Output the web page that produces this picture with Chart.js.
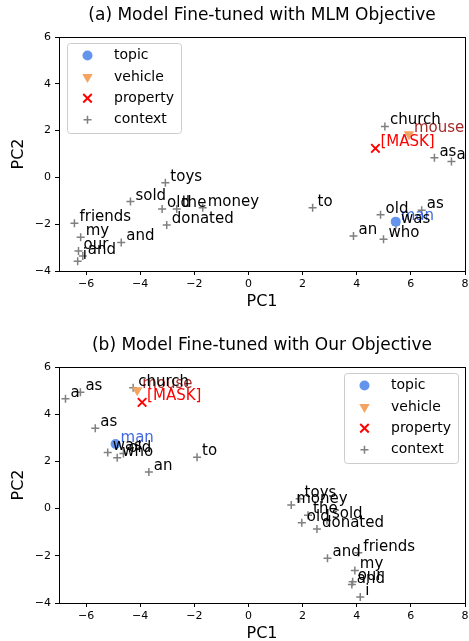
<!DOCTYPE html>
<html><head><meta charset="utf-8">
<script src="https://cdn.jsdelivr.net/npm/chart.js@4"></script>
<style>
html,body{margin:0;padding:0;overflow:hidden;background:#fff;width:469px;height:641px;}
canvas{position:absolute;left:0;}
#ca{top:0}
#cb{top:330px}
</style></head><body>
<canvas id="ca" width="469" height="330"></canvas>
<canvas id="cb" width="469" height="330"></canvas>
<script>
const xTicks = [-6, -4, -2, 0, 2, 4, 6, 8];
const yTicks = [-4, -2, 0, 2, 4, 6];
const seriesNames = ['topic', 'vehicle', 'property', 'context'];

// ---- Panel (a) ----
const aTitle = '(a) Model Fine-tuned with MLM Objective';
const aTopicWords = ['man'];    const aTopicX = [5.44];  const aTopicY = [-1.89];
const aVehicleWords = ['mouse']; const aVehicleX = [5.93]; const aVehicleY = [1.84];
const aPropWords = ['[MASK]'];  const aPropX = [4.69];   const aPropY = [1.24];
const aContextWords = ['church','as','a','toys','sold','old','the','money','donated','friends','my','and','our','and','i','to','old','as','was','an','who'];
const aContextX = [5.04, 6.87, 7.5, -3.07, -4.36, -3.19, -2.65, -1.69, -3.02, -6.43, -6.2, -4.7, -6.28, -6.12, -6.31, 2.37, 4.88, 6.4, 5.45, 3.88, 4.99];
const aContextY = [2.18, 0.84, 0.68, -0.23, -1.03, -1.35, -1.35, -1.3, -2.03, -1.96, -2.56, -2.78, -3.14, -3.36, -3.58, -1.3, -1.6, -1.4, -2.02, -2.5, -2.64];

// ---- Panel (b) ----
const bTitle = '(b) Model Fine-tuned with Our Objective';
const bTopicWords = ['man'];    const bTopicX = [-4.91]; const bTopicY = [2.74];
const bVehicleWords = ['mouse']; const bVehicleX = [-4.11]; const bVehicleY = [5.02];
const bPropWords = ['[MASK]'];  const bPropX = [-3.93];  const bPropY = [4.5];
const bContextWords = ['a','as','church','as','was','old','who','an','to','toys','money','the','sold','old','donated','and','friends','my','our','and','i'];
const bContextX = [-6.76, -6.21, -4.26, -5.66, -5.2, -4.62, -4.85, -3.68, -1.9, 1.89, 1.58, 2.2, 2.9, 1.97, 2.53, 2.92, 4.06, 3.93, 3.85, 3.82, 4.13];
const bContextY = [4.65, 4.93, 5.12, 3.4, 2.38, 2.33, 2.15, 1.55, 2.18, 0.42, 0.15, -0.28, -0.5, -0.6, -0.86, -2.1, -1.87, -2.62, -3.1, -3.22, -3.75];

const FONT = 'DejaVu Sans';
const fmt = v => (v < 0 ? '\u2212' + Math.abs(v) : String(v));
const pts = (xs, ys) => xs.map((x, i) => ({x: x, y: ys[i]}));

function datasets(tw, tx, ty, vw, vx, vy, pw, px, py, cw, cx, cy) {
  return [
    {label: seriesNames[0], data: pts(tx, ty), words: tw, labelColor: '#4169E1',
     pointStyle: 'circle', pointRadius: 5, pointRotation: 0, backgroundColor: '#6495ED', borderColor: '#6495ED', borderWidth: 0},
    {label: seriesNames[1], data: pts(vx, vy), words: vw, labelColor: '#A52A2A',
     pointStyle: 'triangle', pointRadius: 6, pointRotation: 180, backgroundColor: '#F4A460', borderColor: '#F4A460', borderWidth: 0},
    {label: seriesNames[2], data: pts(px, py), words: pw, labelColor: '#FF0000',
     pointStyle: 'crossRot', pointRadius: 6, pointRotation: 0, backgroundColor: '#FF0000', borderColor: '#FF0000', borderWidth: 2},
    {label: seriesNames[3], data: pts(cx, cy), words: cw, labelColor: '#000000',
     pointStyle: 'cross', pointRadius: 4, pointRotation: 0, backgroundColor: '#808080', borderColor: '#808080', borderWidth: 1.5}
  ];
}

const framePlugin = {
  id: 'frame',
  afterDraw(chart, args, opts) {
    const a = chart.chartArea, ctx = chart.ctx;
    ctx.save();
    ctx.strokeStyle = '#000'; ctx.lineWidth = 1;
    ctx.strokeRect(Math.round(a.left) + 0.5, Math.round(a.top) + 0.5, Math.round(a.right - a.left), Math.round(a.bottom - a.top));
    ctx.fillStyle = '#000';
    ctx.font = '17px "' + FONT + '"';
    ctx.textAlign = 'center'; ctx.textBaseline = 'middle';
    ctx.fillText(opts.title, (a.left + a.right) / 2, 16);
    ctx.restore();
  }
};

const wordPlugin = {
  id: 'words',
  afterDatasetsDraw(chart) {
    const ctx = chart.ctx;
    ctx.save();
    ctx.font = '15px "' + FONT + '"';
    ctx.textAlign = 'left'; ctx.textBaseline = 'alphabetic';
    chart.data.datasets.forEach((ds, i) => {
      const meta = chart.getDatasetMeta(i);
      ctx.fillStyle = ds.labelColor;
      meta.data.forEach((el, j) => ctx.fillText(ds.words[j], el.x + 5, el.y - 2));
    });
    ctx.restore();
  }
};

const legendPlugin = {
  id: 'boxLegend',
  afterDraw(chart, args, opts) {
    const ctx = chart.ctx, a = chart.chartArea;
    const w = 114, h = 90;
    const x = opts.side === 'left' ? a.left + 8 : a.right - 7 - w;
    const y = a.top + 6;
    ctx.save();
    ctx.beginPath();
    ctx.roundRect(x + 0.5, y + 0.5, w, h, 3);
    ctx.fillStyle = 'rgba(255,255,255,0.8)'; ctx.fill();
    ctx.strokeStyle = '#cccccc'; ctx.lineWidth = 1; ctx.stroke();
    chart.data.datasets.forEach((ds, i) => {
      const cy = y + 12.5 + i * 21.4;
      ctx.fillStyle = ds.backgroundColor; ctx.strokeStyle = ds.borderColor; ctx.lineWidth = ds.borderWidth;
      Chart.helpers.drawPoint(ctx, {pointStyle: ds.pointStyle, radius: ds.pointRadius, rotation: ds.pointRotation, borderWidth: ds.borderWidth}, x + 20.5, cy);
      ctx.fillStyle = '#000'; ctx.font = '14px "' + FONT + '"';
      ctx.textBaseline = 'middle'; ctx.textAlign = 'left';
      ctx.fillText(ds.label, x + 47, cy);
    });
    ctx.restore();
  }
};

function noPad(s) { s.paddingLeft = 0; s.paddingRight = 0; s.paddingTop = 0; s.paddingBottom = 0; }

function makeChart(id, title, ds, side, xh, xpad) {
  return new Chart(document.getElementById(id), {
    type: 'scatter',
    data: {datasets: ds},
    plugins: [framePlugin, wordPlugin, legendPlugin],
    options: {
      responsive: false, animation: false, devicePixelRatio: 1,
      layout: {autoPadding: false, padding: {left: 0, right: 4, top: 37, bottom: 0}},
      elements: {point: {hoverRadius: 5}},
      datasets: {scatter: {clip: false}},
      plugins: {
        legend: {display: false}, tooltip: {enabled: false}, title: {display: false},
        boxLegend: {side: side},
        frame: {title: title}
      },
      scales: {
        x: {type: 'linear', min: -7, max: 8,
          afterFit: s => { s.height = xh; noPad(s); },
          afterBuildTicks: s => { s.ticks = xTicks.map(v => ({value: v})); },
          grid: {display: true, drawOnChartArea: false, drawTicks: true, tickLength: 4, color: '#000'},
          border: {display: false},
          ticks: {callback: fmt, color: '#000', padding: 3, maxRotation: 0, autoSkip: false, font: {family: FONT, size: 11}},
          title: {display: true, text: 'PC1', color: '#000', font: {family: FONT, size: 16, lineHeight: 1.2}, padding: {top: 0, bottom: xpad}}
        },
        y: {type: 'linear', min: -4, max: 6,
          afterFit: s => { s.width = 59; noPad(s); },
          afterBuildTicks: s => { s.ticks = yTicks.map(v => ({value: v})); },
          grid: {display: true, drawOnChartArea: false, drawTicks: true, tickLength: 4, color: '#000'},
          border: {display: false},
          ticks: {callback: fmt, color: '#000', padding: 4, autoSkip: false, font: {family: FONT, size: 11}},
          title: {display: true, text: 'PC2', color: '#000', font: {family: FONT, size: 16, lineHeight: 1.2}, padding: {top: 9.4, bottom: 0}}
        }
      }
    }
  });
}

makeChart('ca', aTitle,
  datasets(aTopicWords, aTopicX, aTopicY, aVehicleWords, aVehicleX, aVehicleY, aPropWords, aPropX, aPropY, aContextWords, aContextX, aContextY),
  'left', 59, 18.4);
makeChart('cb', bTitle,
  datasets(bTopicWords, bTopicX, bTopicY, bVehicleWords, bVehicleX, bVehicleY, bPropWords, bPropX, bPropY, bContextWords, bContextX, bContextY),
  'right', 57, 16.4);
</script>
</body></html>
